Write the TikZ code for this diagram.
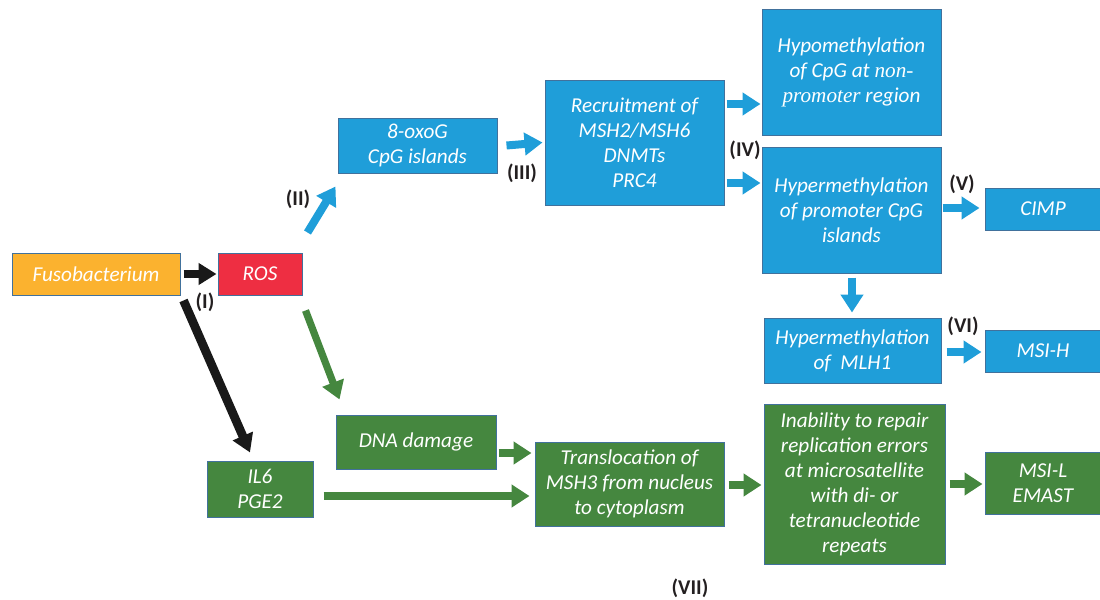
\documentclass[tikz,border=0pt]{standalone}
\usepackage{fontspec}
\setmainfont{Carlito}
\newfontfamily\tnr{Liberation Serif}[UprightFont={* Italic}, ItalicFont={* Italic}]
\usetikzlibrary{arrows.meta,calc}
\definecolor{cblue}{HTML}{1F9ED9}
\definecolor{cgreen}{HTML}{45873F}
\definecolor{corange}{HTML}{FBB22F}
\definecolor{cred}{HTML}{EE2E42}
\definecolor{cedge}{HTML}{41719C}
\definecolor{clabel}{HTML}{231F20}
\tikzset{
  box/.style={draw=cedge, line width=0.5pt, inner sep=0pt, align=center, text=white,
    font=\fontsize{10.6}{12.5}\selectfont\itshape},
  bluebox/.style={box, fill=cblue},
  greenbox/.style={box, fill=cgreen},
  barrow/.style={line width=4pt, draw=cblue, -{Triangle[width=11pt,length=9pt]}},
  garrow/.style={line width=3.6pt, draw=cgreen, -{Triangle[width=11pt,length=9pt]}},
  karrow/.style={line width=4.4pt, draw=black!90, -{Triangle[width=10.5pt,length=9pt]}},
  lab/.style={font=\fontsize{10.5}{11}\selectfont\bfseries, text=clabel, inner sep=0pt}
}
\begin{document}
\begin{tikzpicture}[x=0.5pt,y=-0.5pt]
\useasboundingbox (0,0) rectangle (1100,600);
% boxes
\node[box, fill=corange, minimum width=84pt, minimum height=21pt] (fuso) at (96,274) {Fusobacterium};
\node[box, fill=cred, minimum width=42pt, minimum height=21pt] (ros) at (260,274) {ROS};
\node[bluebox, minimum width=79.5pt, minimum height=27.5pt] (oxo) at (417.5,145.5) {8-oxoG\\CpG islands};
\node[bluebox, minimum width=89.5pt, minimum height=62.5pt] (rec) at (634.5,142.5) {Recruitment of\\MSH2/MSH6\\DNMTs\\PRC4};
\node[bluebox, minimum width=89.5pt, minimum height=63pt] (hypo) at (851.5,72) {Hypomethylation\\of CpG at {\tnr non-}\\{\tnr promoter} region};
\node[bluebox, minimum width=89.5pt, minimum height=63pt] (hyper) at (851.5,210) {Hypermethylation\\of promoter CpG\\islands};
\node[bluebox, minimum width=58pt, minimum height=21pt] (cimp) at (1043,209) {CIMP};
\node[bluebox, minimum width=88.5pt, minimum height=32.5pt] (mlh) at (852.5,350.5) {Hypermethylation\\of\ \ MLH1};
\node[bluebox, minimum width=58pt, minimum height=21pt] (msih) at (1043,351) {MSI-H};
\node[greenbox, minimum width=80pt, minimum height=27pt] (dna) at (416,442) {DNA damage};
\node[greenbox, minimum width=53pt, minimum height=28pt] (il6) at (260,489) {IL6\\PGE2};
\node[greenbox, minimum width=94.5pt, minimum height=42pt] (trans) at (629.5,484) {Translocation of\\MSH3 from nucleus\\to cytoplasm};
\node[greenbox, minimum width=90.5pt, minimum height=80pt] (inab) at (854.5,484) {Inability to repair\\replication errors\\at microsatellite\\with di- or\\tetranucleotide\\repeats};
\node[greenbox, minimum width=58pt, minimum height=31pt] (msil) at (1043,483) {MSI-L\\EMAST};
% arrows
\draw[karrow] ($(fuso.east)+(3,0)$) -- ($(ros.west)+(-1,0)$);
\draw[karrow] ($(fuso.south east)+(3,5)$) -- ($(il6.north)+(-10,-8)$);
\draw[barrow] ($(ros.north east)+(5,-20)$) -- ($(oxo.south west)+(-2,13)$);
\draw[garrow] ($(ros.south east)+(3,15)$) -- ($(dna.north west)+(4,-15)$);
\draw[barrow] ($(oxo.east)+(9,0)$) -- ($(rec.west)+(-2,0)$);
\draw[barrow] ($(rec.east)+(2,-38.5)$) -- ($(hypo.west)+(-1,32)$);
\draw[barrow] ($(rec.east)+(2,40.5)$) -- ($(hyper.west)+(-1,-27)$);
\draw[barrow] ($(hyper.east)+(1,-2)$) -- ($(cimp.west)+(-5,-1)$);
\draw[barrow] ($(hyper.south)+(0.5,4)$) -- ($(mlh.north)+(-0.5,-5)$);
\draw[barrow] ($(mlh.east)+(5,1.5)$) -- ($(msih.west)+(-3,1)$);
\draw[garrow] ($(dna.east)+(2,11)$) -- ($(trans.west)+(-3,-31)$);
\draw[garrow] ($(il6.east)+(10,7)$) -- ($(trans.west)+(-5,12)$);
\draw[garrow] ($(trans.east)+(4,1)$) -- ($(inab.west)+(-2,1)$);
\draw[garrow] ($(inab.east)+(4,0)$) -- ($(msil.west)+(-2,1)$);
% labels
\node[lab] (l1) at (205,302) {(I)};
\node[lab] (l2) at (298,199) {(II)};
\node[lab] (l3) at (522,173) {(III)};
\node[lab] (l4) at (745,150) {(IV)};
\node[lab] (l5) at (962,184) {(V)};
\node[lab] (l6) at (963,326) {(VI)};
\node[lab] (l7) at (690,588) {(VII)};
\end{tikzpicture}
\end{document}
